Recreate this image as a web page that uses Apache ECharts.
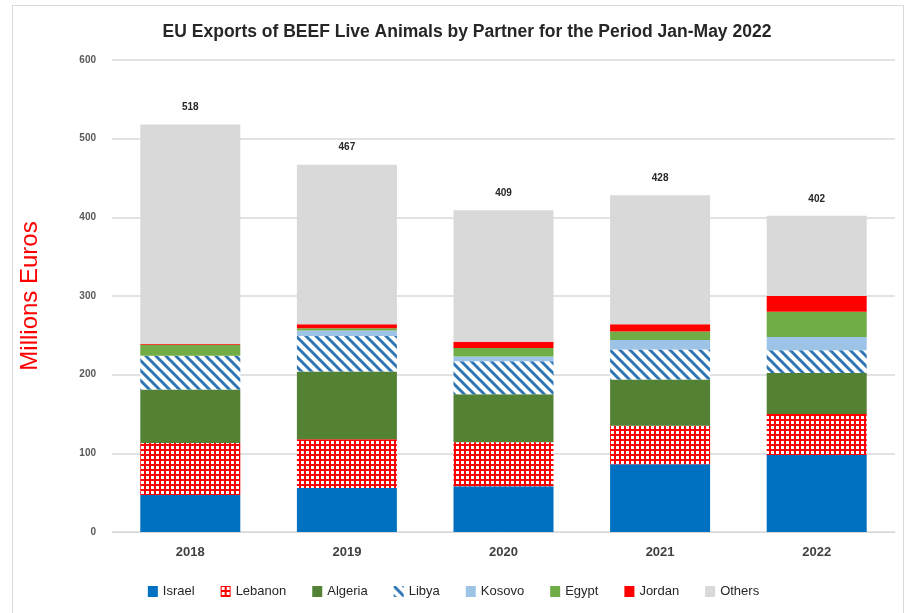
<!DOCTYPE html>
<html>
<head>
<meta charset="utf-8">
<script src="https://cdn.jsdelivr.net/npm/echarts@6/dist/echarts.min.js"></script>
<style>
  html, body { margin: 0; padding: 0; background: #fff; }
  #frame { position: absolute; left: 12px; top: 5px; width: 892px; height: 620px; border: 1px solid #d9d9d9; box-sizing: border-box; }
  #main { width: 907px; height: 613px; }
</style>
</head>
<body>
<div id="frame"></div>
<div id="main"></div>
<script>
// data (millions euros)
const years = ['2018', '2019', '2020', '2021', '2022'];
const israel  = [47, 56, 58, 86, 98];
const lebanon = [66, 62, 56, 49, 52];
const algeria = [68, 86, 61, 59, 52];
const libya   = [43, 45, 42, 38, 29];
const kosovo  = [0, 7, 6, 12, 17];
const egypt   = [14, 3, 11, 11, 32];
const jordan  = [1, 5, 8, 9, 20];
const others  = [279, 203, 167, 164, 102];
const totals  = [518, 467, 409, 428, 402];

// checker pattern for Lebanon
function checker() {
  const c = document.createElement('canvas');
  c.width = 10; c.height = 10;
  const g = c.getContext('2d');
  g.fillStyle = '#ff0000';
  g.fillRect(0, 0, 10, 10);
  g.fillStyle = '#ffffff';
  g.fillRect(1, 1, 3, 3);
  g.fillRect(6, 6, 3, 3);
  g.fillRect(6, 1, 3, 3);
  g.fillRect(1, 6, 3, 3);
  return c;
}

// diagonal stripes for Libya
function stripes() {
  const c = document.createElement('canvas');
  c.width = 10; c.height = 10;
  const g = c.getContext('2d');
  g.fillStyle = '#ffffff';
  g.fillRect(0, 0, 10, 10);
  g.strokeStyle = '#2e75b6';
  g.lineWidth = 3;
  g.beginPath();
  g.moveTo(-2, -2); g.lineTo(12, 12);
  g.moveTo(-7, 3); g.lineTo(7, 17);
  g.moveTo(3, -7); g.lineTo(17, 7);
  g.stroke();
  return c;
}

const chart = echarts.init(document.getElementById('main'), null, {renderer: 'canvas'});

function bar(name, data, color) {
  return {
    name: name,
    type: 'bar',
    stack: 'total',
    barWidth: 100,
    data: data,
    itemStyle: {color: color}
  };
}

const series = [
  bar('Israel', israel, '#0070c0'),
  bar('Lebanon', lebanon, {image: checker(), repeat: 'repeat'}),
  bar('Algeria', algeria, '#548235'),
  bar('Libya', libya, {image: stripes(), repeat: 'repeat'}),
  bar('Kosovo', kosovo, '#9dc3e6'),
  bar('Egypt', egypt, '#70ad47'),
  bar('Jordan', jordan, '#ff0000'),
  bar('Others', others, '#d9d9d9')
];
series[7].label = {
  show: true,
  position: 'top',
  distance: 12,
  formatter: p => totals[p.dataIndex],
  fontSize: 10,
  fontWeight: 'bold',
  color: '#262626',
  fontFamily: 'Liberation Sans'
};

chart.setOption({
  animation: false,
  textStyle: {fontFamily: 'Liberation Sans'},
  title: {
    text: 'EU Exports of BEEF Live Animals by Partner for the Period Jan-May 2022',
    left: 462,
    top: 18,
    textAlign: 'center',
    textStyle: {fontSize: 17.5, fontWeight: 'bold', color: '#262626'}
  },
  legend: {
    bottom: 10,
    left: 'center',
    icon: 'rect',
    itemWidth: 10,
    itemHeight: 11,
    itemGap: 26,
    textStyle: {fontSize: 13, color: '#262626'},
    data: ['Israel', 'Lebanon', 'Algeria', 'Libya', 'Kosovo', 'Egypt', 'Jordan', 'Others']
  },
  grid: {left: 112, right: 12, top: 60, bottom: 81},
  xAxis: {
    type: 'category',
    data: years,
    axisLine: {lineStyle: {color: '#d9d9d9'}},
    axisTick: {show: false},
    axisLabel: {fontSize: 13, fontWeight: 'bold', color: '#404040', margin: 14}
  },
  yAxis: {
    type: 'value',
    min: 0,
    max: 600,
    interval: 100,
    name: 'Millions Euros',
    nameLocation: 'middle',
    nameGap: 70,
    nameTextStyle: {color: '#ff0000', fontSize: 24},
    axisLabel: {fontSize: 10, fontWeight: 'bold', color: '#595959', margin: 16},
    splitLine: {lineStyle: {color: '#d9d9d9', width: 1.5}}
  },
  series: series
});
</script>
</body>
</html>
